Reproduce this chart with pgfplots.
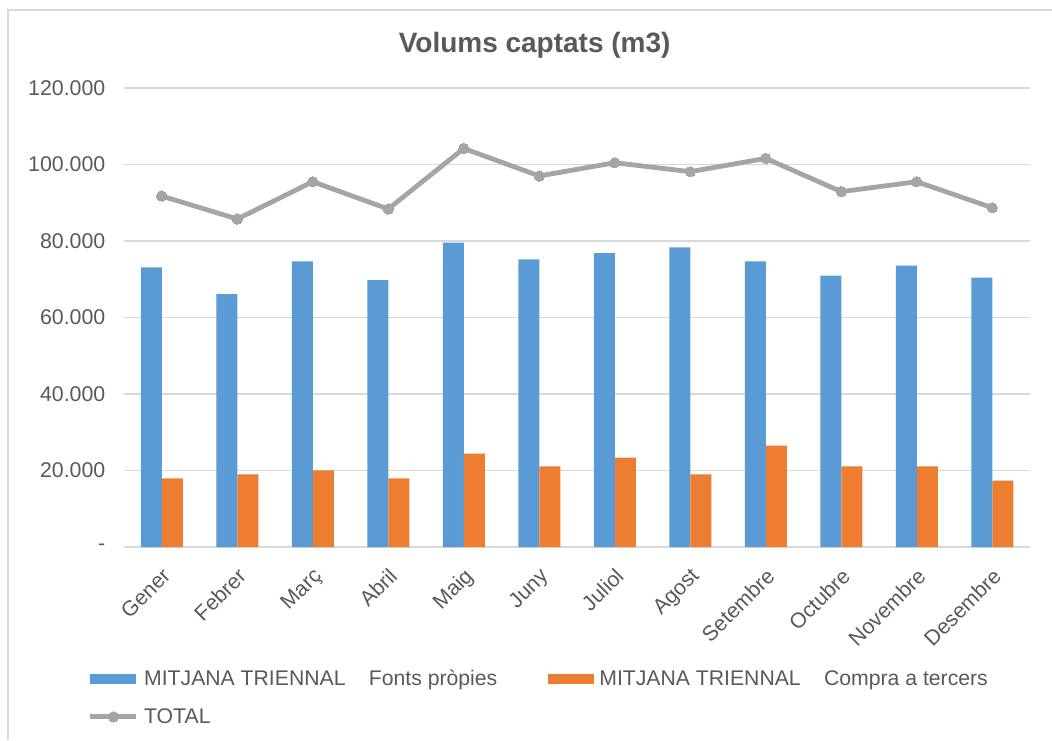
\documentclass[border=0pt]{standalone}
\usepackage{pgfplots}
\pgfplotsset{compat=1.18}
\usepackage{pgfplotstable}
\usepackage{fontspec}
\setmainfont{Liberation Sans}

\definecolor{serieA}{HTML}{5B9BD5}
\definecolor{serieB}{HTML}{ED7D31}
\definecolor{serieC}{HTML}{A5A5A5}
\definecolor{textgray}{HTML}{595959}
\definecolor{gridgray}{HTML}{D9D9D9}

% x, fonts propies, compra a tercers, total
\pgfplotstableread{
x  propies  tercers  total
0  73100    17950    91760
1  66100    19000    85750
2  74700    20050    95500
3  69800    17950    88370
4  79560    24400    104200
5  75200    21100    97000
6  76800    23350    100470
7  78350    19000    98120
8  74700    26500    101600
9  70930    21100    92900
10 73550    21100    95500
11 70400    17350    88700
}\dades

\pgfplotsset{
  swatch/.style={legend image code/.code={\fill[#1] (0pt,-3.75pt) rectangle (34.5pt,3.75pt);}},
  linswatch/.style={legend image code/.code={\draw[mark repeat=2, mark phase=2, ##1] plot coordinates {(0pt,0pt) (17.25pt,0pt) (34.5pt,0pt)};}},
}

\begin{document}
\begin{tikzpicture}
  % full chart area, 1px = 0.75pt
  \path[use as bounding box] (0,0) rectangle (789pt,555pt);
  \draw[gridgray, line width=1pt] (6pt,0pt) |- (789pt,547.5pt);

  \node[font=\fontsize{21}{24}\selectfont\bfseries, text=textgray] at (401pt,521pt) {Volums captats (m3)};

  \begin{axis}[
    at={(93pt,144.75pt)}, anchor=south west,
    scale only axis,
    width=679.5pt, height=344.25pt,
    xmin=-0.5, xmax=11.5,
    ymin=0, ymax=120000,
    scaled y ticks=false,
    ytick={0,20000,40000,60000,80000,100000,120000},
    yticklabels={-,20.000,40.000,60.000,80.000,100.000,120.000},
    xtick={0,...,11},
    xticklabels={Gener,Febrer,Març,Abril,Maig,Juny,Juliol,Agost,Setembre,Octubre,Novembre,Desembre},
    ymajorgrids,
    grid style={gridgray, line width=1.1pt},
    axis line style={draw=none},
    major tick length=0pt,
    tick label style={font=\fontsize{16}{19}\selectfont, text=textgray},
    yticklabel style={xshift=-10.5pt},
    xticklabel style={rotate=45, anchor=north east, xshift=-7.3pt, yshift=-6.6pt},
    ybar=0pt, bar width=15.75pt,
    legend columns=2,
    legend cell align=left,
    legend style={
      at={(-0.04,-0.262)}, anchor=north west,
      draw=none, fill=none, inner sep=0pt,
      font=\fontsize{15.9}{18}\selectfont, text=textgray,
      /tikz/every even column/.append style={column sep=36pt},
      /tikz/every odd column/.append style={column sep=2pt},
      row sep=11.5pt
    },
  ]
    \addplot[fill=serieA, draw=none, swatch=serieA]
      table[x=x, y=propies] {\dades};
    \addlegendentry{MITJANA TRIENNAL\hspace{1.1em}Fonts pròpies}
    \addplot[fill=serieB, draw=none, swatch=serieB]
      table[x=x, y=tercers] {\dades};
    \addlegendentry{MITJANA TRIENNAL\hspace{1.1em}Compra a tercers}
    \addplot[sharp plot, serieC, line width=3.6pt, mark=*, mark size=3.9pt,
      mark options={fill=serieC, draw=serieC, line width=0pt}, linswatch]
      table[x=x, y=total] {\dades};
    \addlegendentry{TOTAL}
  \end{axis}
\end{tikzpicture}
\end{document}
